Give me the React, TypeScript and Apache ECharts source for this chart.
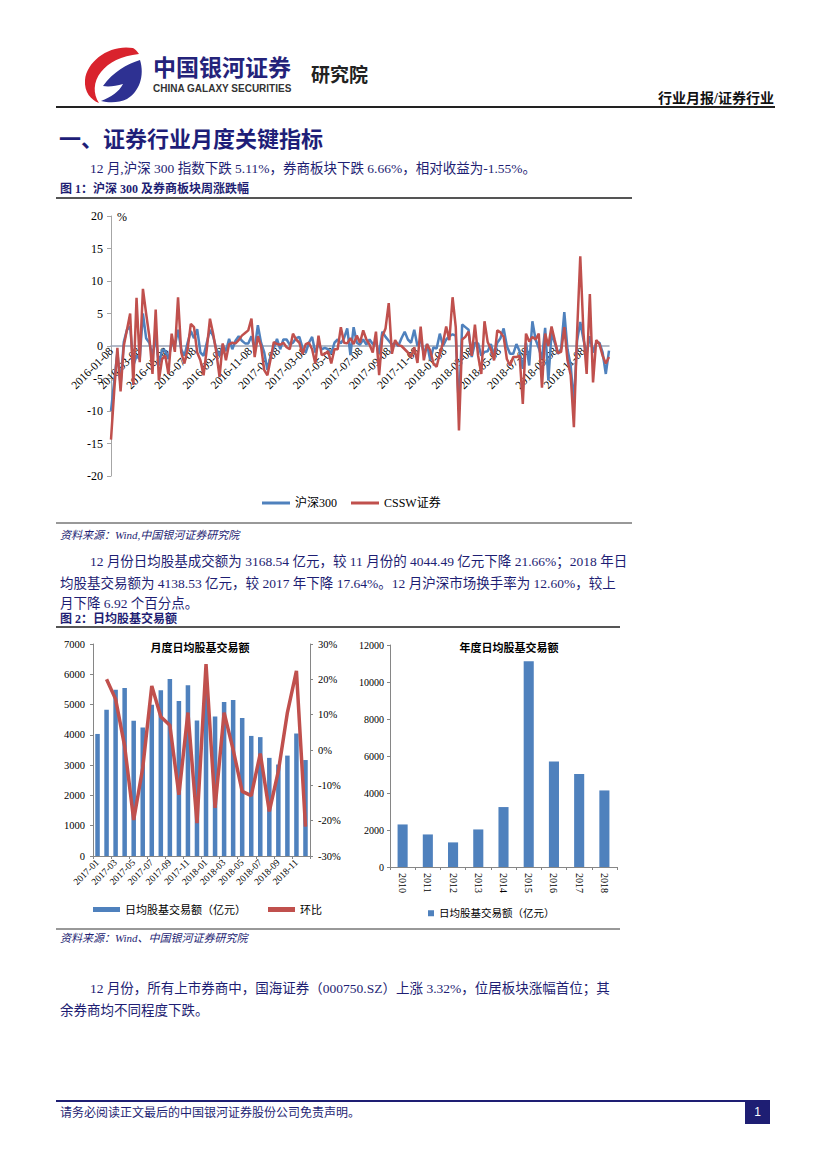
import React, { useEffect, useRef } from 'react';
import * as echarts from 'echarts';

// ---------- DATA ----------
const WEEK_START = '2016-01-08';
const WEEK_TICKS = [
  '2016-01-08', '2016-03-08', '2016-05-08', '2016-07-08', '2016-09-08', '2016-11-08',
  '2017-01-08', '2017-03-08', '2017-05-08', '2017-07-08', '2017-09-08', '2017-11-08',
  '2018-01-08', '2018-03-08', '2018-05-08', '2018-07-08', '2018-09-08', '2018-11-08',
];
const WEEK_Y_TICKS = [-20, -15, -10, -5, 0, 5, 10, 15, 20];

// weekly % change, one value per week starting 2016-01-08
const HS300 = [
  -10, -5.5, -1, -6, 0.6, 2.5, 3, -3, -1.5, -2,
  5, 1.2, 0.5, -1.5, 1.5, -3, -0.5, -0.8, -2, 0.5,
  0, 2.5, -0.5, -1.5, 0.5, 2.3, 1.2, 2.6, -1, -1.5,
  0.5, 2.5, 1.5, -0.5, -1.5, 0.2, -0.8, 1.1, -0.5, 0.8,
  1.5, 0.8, 0.4, 0.4, 1.5, -0.5, 3.2, 0.5, -1, -3.7,
  -1.5, -0.3, 1.1, -0.5, 1.0, 1.0, 0.2, 0.5, 1.2, 1.4,
  -0.3, -1.0, 0.5, 1.4, -1.0, 0.3, -0.5, -0.3, -0.5, -1.2,
  0.5, 1.0, 0.4, 1.2, 2.7, -1.4, 2.9, 0.5, 0.2, 1.0,
  0.2, 1.0, 0.3, 0.5, -1.2, 2.2, 1.4, 0.8, 0.2, 0.5,
  0, 1.2, 2.2, 1.0, 0.5, 2.5, 0, 1.0, -1.2, 0.3,
  -2.2, -0.2, -0.4, 1.9, 0, 1.0, 1.5, 1.8, 1.6, -10,
  3.3, 2.9, 2.5, -1.7, 0.5, 0.4, -1.5, -0.9, -0.8, 0.3,
  -1.5, 0.5, 1.2, 2.7, 0, -1.2, -1.2, 0.3, -0.8, -3.5,
  0.5, -3.0, 3.8, 1.0, -0.3, -2, 2.8, -5.3, 2, 0.5,
  -1.2, -0.4, 5.2, -0.5, -3, -8.9, 0.8, 3.7, 1.0, -1.2,
  1.5, -1.0, 0.5, 0.5, -1.0, -4.3, -0.7,
];
const CSSW = [
  -14.4, -7, -0.3, -7, 0, 2.5, 5, -6, 7.4, -2.5,
  8.8, 5, 1.5, -4.3, 5.6, -5.3, -2, -1.5, -4.3, 1.9,
  -0.9, 7.5, -1, -2.7, -0.5, 3.4, 2.9, -1, -2.2, -4.5,
  -0.5, 4.2, 1.9, -1, -4.8, 0.4, -2.2, 0.3, 0.5, 0.4,
  0.9, 1.6, 2.0, 2.4, 4.2, -1.7, 1.5, 0, -3.7, -4.5,
  -2, 0.6, 0.3, 0.2, 0.5, -0.2, -0.5, 1.9, 1.0, 0.5,
  -1.2, 0.3, 0.5, -0.5, -2.7, 1.6, -1.4, -1.2, -0.8, -2.7,
  -0.5, -0.5, 2.9, 0.5, 0.4, 1.2, 0.3, 1.6, 0.5, 2.4,
  1.0, 0.2, -1.0, 2.2, -4.5, 1.5, 2.7, 6.6, -1.2, 0.9,
  0.1, 0, -0.5, -1.0, -1.7, -0.2, -2.6, 3.0, -2.2, 0.3,
  -0.7, -2.7, -3.2, -1.2, 0.5, 3.0, 0.9, 7.5, 2.9, -13,
  1.0, 1.4, 2.2, -1.5, 3.3, -1.5, -4.3, 3.8, 0.6, -0.5,
  -2.2, 2.4, 2.1, 1.4, -2.0, -3.0, -1.7, -1.7, -1.5, -8.9,
  1.9, 0.7, 1.4, 1.0, 1.9, -6.4, 1.9, 0, 3.0, 0.9,
  -1.1, -0.9, 2.9, -2.2, -4.5, -12.5, 2.0, 13.8, 2.0, -4.3,
  8.0, -5.6, 0.9, 0.3, -1.5, -2.7, -1.7,
];

const MONTHS = [
  '2017-01', '2017-02', '2017-03', '2017-04', '2017-05', '2017-06',
  '2017-07', '2017-08', '2017-09', '2017-10', '2017-11', '2017-12',
  '2018-01', '2018-02', '2018-03', '2018-04', '2018-05', '2018-06',
  '2018-07', '2018-08', '2018-09', '2018-10', '2018-11', '2018-12',
];
const MONTH_TURNOVER = [
  4030, 4830, 5490, 5545, 4465, 4245, 4995, 5470, 5845, 5115, 5635, 4475,
  5545, 4605, 5085, 5150, 4555, 3965, 3925, 3240, 3020, 3315, 4044.49, 3168.54,
];
const MONTH_MOM: (number | string)[] = [
  '-', 20.0, 14.4, 1.1, -19.8, -5.1, 18.1, 9.4, 7.0, -12.7, 10.6, -20.7,
  24.3, -16.4, 10.6, 0.1, -11.7, -12.9, -1.0, -17.4, -6.0, 10.6, 22.4, -21.66,
];

const YEARS = ['2010', '2011', '2012', '2013', '2014', '2015', '2016', '2017', '2018'];
const YEAR_TURNOVER = [2300, 1760, 1330, 2030, 3240, 11120, 5700, 5025, 4138.53];

// ---------- STYLE ----------
const SERIF = '"Liberation Serif", "Times New Roman", "Noto Sans CJK SC", serif';
const CJK = '"Liberation Serif", "Noto Sans CJK SC", sans-serif';
const NAVY = '#1E1E73';
const BLUE = '#4F81BD';
const RED = '#C0504D';

let shapesRegistered = false;
function registerShapes() {
  if (shapesRegistered) return;
  shapesRegistered = true;
  echarts.graphic.registerShape(
    'logoRed',
    echarts.graphic.extendPath(
      'M50 2 C28 -2 4 14 2 34 C1 46 8 54 16 57 C10 48 10 36 18 26 C26 16 38 10 56 8 C54 5 52 3 50 2 Z',
      {}
    )
  );
  echarts.graphic.registerShape(
    'logoBlue',
    echarts.graphic.extendPath(
      'M20 40 C30 26 44 18 57 14 C62 30 56 46 44 53 C36 57 26 57 18 55 C28 51 36 46 40 38 C33 40 26 41 20 40 Z',
      {}
    )
  );
}

const dayOffset = (s: string) => {
  const [y, m, d] = s.split('-').map(Number);
  const [y0, m0, d0] = WEEK_START.split('-').map(Number);
  return Math.round((Date.UTC(y, m - 1, d) - Date.UTC(y0, m0 - 1, d0)) / 86400000);
};

function txt(text: string, x: number, y: number, size: number, o: any = {}) {
  const align = o.align || 'left';
  return {
    type: 'text',
    x,
    y,
    silent: true,
    style: {
      text,
      fontSize: size,
      fontFamily: o.family || CJK,
      fontWeight: o.weight || 'normal',
      fontStyle: o.fontStyle || 'normal',
      fill: o.fill || NAVY,
      align,
      textAlign: align,
      verticalAlign: 'middle',
      textVerticalAlign: 'middle',
    },
  };
}

function hline(x1: number, x2: number, y: number, color: string, w: number) {
  return {
    type: 'line',
    silent: true,
    shape: { x1, y1: y, x2, y2: y },
    style: { stroke: color, lineWidth: w },
  };
}

const plain = (v: number) => String(v);

function buildOption() {
  const tickOffsets = WEEK_TICKS.map(dayOffset);
  const weekMax = (HS300.length - 1) * 7;
  const axisGray = '#868686';
  const WEEK_GRID = { left: 111, top: 216, width: 498, height: 260 };
  const yMin = WEEK_Y_TICKS[0];
  const yMax = WEEK_Y_TICKS[WEEK_Y_TICKS.length - 1];
  // distance (px) from the grid bottom up to the zero line
  const zeroFromBottom = (WEEK_GRID.height * (0 - yMin)) / (yMax - yMin);

  const graphic: any[] = [
    // header
    {
      type: 'group',
      x: 83,
      y: 46,
      children: [
        { type: 'logoRed', style: { fill: '#D9232D' } },
        { type: 'logoBlue', style: { fill: '#2E3192' } },
      ],
    },
    txt('中国银河证券', 153, 66, 23, { weight: 'bold', fill: '#24237A', family: '"Noto Sans CJK SC", sans-serif' }),
    txt('CHINA GALAXY SECURITIES', 153, 88, 10, { weight: 'bold', fill: '#333333', family: '"Liberation Sans", Arial, sans-serif' }),
    txt('研究院', 311, 73, 19, { weight: 'bold', fill: '#222222', family: '"Noto Sans CJK SC", sans-serif' }),
    txt('行业月报/证券行业', 774, 98, 14, { weight: 'bold', fill: '#111111', align: 'right' }),
    hline(56, 775, 107, '#222222', 2),

    // section 1
    txt('一、证券行业月度关键指标', 59, 139, 22, { weight: 'bold', fill: '#1E1E78' }),
    txt('12 月,沪深 300 指数下跌 5.11%，券商板块下跌 6.66%，相对收益为-1.55%。', 90, 168, 13.5),
    txt('图 1：沪深 300 及券商板块周涨跌幅', 60, 189, 12, { weight: 'bold' }),
    hline(56, 632, 198, '#555555', 2),
    txt('%', 117, 217, 12, { family: SERIF, fill: '#000000' }),
    hline(56, 632, 523, '#333333', 1),
    txt('资料来源：Wind,中国银河证券研究院', 60, 535, 11, { fontStyle: 'italic' }),

    txt('12 月份日均股基成交额为 3168.54 亿元，较 11 月份的 4044.49 亿元下降 21.66%；2018 年日', 90, 561, 13.5),
    txt('均股基交易额为 4138.53 亿元，较 2017 年下降 17.64%。12 月沪深市场换手率为 12.60%，较上', 60, 583, 13.5),
    txt('月下降 6.92 个百分点。', 60, 603, 13.5),
    txt('图 2：日均股基交易额', 60, 619, 12, { weight: 'bold' }),
    hline(56, 620, 627, '#555555', 2),
    txt('月度日均股基交易额', 200, 648, 11, { weight: 'bold', fill: '#000000', align: 'center' }),
    txt('年度日均股基交易额', 509, 648, 11, { weight: 'bold', fill: '#000000', align: 'center' }),
    hline(56, 620, 929, '#333333', 1),
    txt('资料来源：Wind、中国银河证券研究院', 60, 938, 11, { fontStyle: 'italic' }),

    txt('12 月份，所有上市券商中，国海证券（000750.SZ）上涨 3.32%，位居板块涨幅首位；其', 90, 988, 13.5),
    txt('余券商均不同程度下跌。', 60, 1010, 13.5),

    // footer
    hline(56, 745, 1101, NAVY, 2),
    { type: 'rect', silent: true, shape: { x: 745, y: 1100, width: 25, height: 24 }, style: { fill: NAVY } },
    txt('1', 757.5, 1112, 12, { fill: '#FFFFFF', align: 'center', family: '"Liberation Sans", Arial, sans-serif' }),
    txt('请务必阅读正文最后的中国银河证券股份公司免责声明。', 60, 1113, 12),
  ];

  return {
    animation: false,
    backgroundColor: '#FFFFFF',
    textStyle: { fontFamily: SERIF },
    grid: [
      { ...WEEK_GRID, outerBoundsMode: 'none', containLabel: false },
      { left: 93, top: 644, width: 217, height: 212, outerBoundsMode: 'none', containLabel: false },
      { left: 390, top: 645, width: 227, height: 222, outerBoundsMode: 'none', containLabel: false },
    ],
    legend: [
      {
        left: 262,
        top: 497,
        padding: 0,
        icon: 'rect',
        itemWidth: 28,
        itemHeight: 3,
        itemGap: 14,
        data: ['沪深300', 'CSSW证券'],
        textStyle: { fontSize: 12, fontFamily: CJK, color: '#000000' },
      },
      {
        left: 93,
        top: 904,
        padding: 0,
        icon: 'rect',
        itemWidth: 27,
        itemHeight: 5,
        itemGap: 22,
        data: ['日均股基交易额（亿元）', '环比'],
        textStyle: { fontSize: 11, fontFamily: CJK, color: '#000000' },
      },
      {
        left: 428,
        top: 908,
        padding: 0,
        icon: 'rect',
        itemWidth: 6,
        itemHeight: 6,
        itemGap: 5,
        data: ['日均股基交易额（亿元）'],
        textStyle: { fontSize: 10.5, fontFamily: CJK, color: '#000000' },
      },
    ],
    xAxis: [
      {
        type: 'value',
        gridIndex: 0,
        min: 0,
        max: weekMax,
        axisLine: { onZero: true, lineStyle: { color: '#9AA4B6', width: 1.5 } },
        axisTick: { show: false },
        splitLine: { show: false },
        axisLabel: {
          customValues: tickOffsets,
          formatter: (v: number) => {
            const k = tickOffsets.indexOf(Math.round(v));
            return k >= 0 ? WEEK_TICKS[k] : '';
          },
          rotate: 45,
          fontSize: 11.5,
          fontFamily: SERIF,
          color: '#000000',
          margin: 3 - zeroFromBottom,
          hideOverlap: false,
        },
      },
      {
        type: 'category',
        gridIndex: 1,
        data: MONTHS,
        axisLine: { lineStyle: { color: axisGray } },
        axisTick: { show: true, length: 3, lineStyle: { color: axisGray } },
        axisLabel: { interval: 1, rotate: 45, fontSize: 9.5, fontFamily: SERIF, color: '#000000', margin: 5 },
      },
      {
        type: 'category',
        gridIndex: 2,
        data: YEARS,
        axisLine: { lineStyle: { color: axisGray } },
        axisTick: { show: true, length: 3, lineStyle: { color: axisGray } },
        axisLabel: { interval: 0, rotate: -90, fontSize: 10, fontFamily: SERIF, color: '#000000', margin: 6 },
      },
    ],
    yAxis: [
      {
        type: 'value',
        gridIndex: 0,
        min: yMin,
        max: yMax,
        interval: 5,
        axisLine: { show: true, lineStyle: { color: '#A6A6A6' } },
        axisTick: { show: true, length: 4, lineStyle: { color: '#A6A6A6' } },
        splitLine: { show: false },
        axisLabel: { formatter: plain, fontSize: 12, fontFamily: SERIF, color: '#000000', margin: 8 },
      },
      {
        type: 'value',
        gridIndex: 1,
        min: 0,
        max: 7000,
        interval: 1000,
        axisLine: { show: true, lineStyle: { color: axisGray } },
        axisTick: { show: true, length: 3, lineStyle: { color: axisGray } },
        splitLine: { show: false },
        axisLabel: { formatter: plain, fontSize: 10.5, fontFamily: SERIF, color: '#000000', margin: 8 },
      },
      {
        type: 'value',
        gridIndex: 1,
        position: 'right',
        min: -30,
        max: 30,
        interval: 10,
        axisLine: { show: true, lineStyle: { color: axisGray } },
        axisTick: { show: true, length: 3, lineStyle: { color: axisGray } },
        splitLine: { show: false },
        axisLabel: { formatter: (v: number) => v + '%', fontSize: 10.5, fontFamily: SERIF, color: '#000000', margin: 8 },
      },
      {
        type: 'value',
        gridIndex: 2,
        min: 0,
        max: 12000,
        interval: 2000,
        axisLine: { show: true, lineStyle: { color: axisGray } },
        axisTick: { show: true, length: 3, lineStyle: { color: axisGray } },
        splitLine: { show: false },
        axisLabel: { formatter: plain, fontSize: 10, fontFamily: SERIF, color: '#000000', margin: 6 },
      },
    ],
    series: [
      {
        name: '沪深300',
        type: 'line',
        xAxisIndex: 0,
        yAxisIndex: 0,
        data: HS300.map((v, i) => [i * 7, v]),
        symbol: 'none',
        color: BLUE,
        itemStyle: { color: BLUE },
        lineStyle: { color: BLUE, width: 2.5 },
      },
      {
        name: 'CSSW证券',
        type: 'line',
        xAxisIndex: 0,
        yAxisIndex: 0,
        data: CSSW.map((v, i) => [i * 7, v]),
        symbol: 'none',
        color: RED,
        itemStyle: { color: RED },
        lineStyle: { color: RED, width: 2.5 },
      },
      {
        name: '日均股基交易额（亿元）',
        type: 'bar',
        xAxisIndex: 1,
        yAxisIndex: 1,
        data: MONTH_TURNOVER,
        barWidth: '50%',
        color: BLUE,
        itemStyle: { color: BLUE },
      },
      {
        name: '环比',
        type: 'line',
        xAxisIndex: 1,
        yAxisIndex: 2,
        data: MONTH_MOM,
        symbol: 'none',
        color: RED,
        itemStyle: { color: RED },
        lineStyle: { color: RED, width: 3.5 },
      },
      {
        name: '日均股基交易额（亿元）',
        type: 'bar',
        xAxisIndex: 2,
        yAxisIndex: 3,
        data: YEAR_TURNOVER,
        barWidth: '40%',
        color: BLUE,
        itemStyle: { color: BLUE },
      },
    ],
    graphic,
  };
}

export default function App() {
  const ref = useRef<HTMLDivElement>(null);
  useEffect(() => {
    registerShapes();
    const chart = echarts.init(ref.current as HTMLDivElement, null, { renderer: 'svg' });
    chart.setOption(buildOption() as any);
    return () => chart.dispose();
  }, []);
  return (
    <div
      ref={ref}
      style={{ position: 'absolute', left: 0, top: 0, width: 827, height: 1169, background: '#FFFFFF' }}
    />
  );
}
